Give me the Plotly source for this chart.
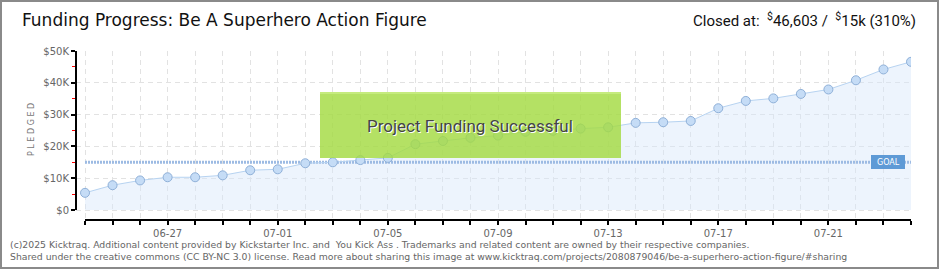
import plotly.graph_objects as go

# ---- data ----
DATES = ["2025-06-24", "2025-06-25", "2025-06-26", "2025-06-27", "2025-06-28", "2025-06-29",
         "2025-06-30", "2025-07-01", "2025-07-02", "2025-07-03", "2025-07-04", "2025-07-05",
         "2025-07-06", "2025-07-07", "2025-07-08", "2025-07-09", "2025-07-10", "2025-07-11",
         "2025-07-12", "2025-07-13", "2025-07-14", "2025-07-15", "2025-07-16", "2025-07-17",
         "2025-07-18", "2025-07-19", "2025-07-20", "2025-07-21", "2025-07-22", "2025-07-23",
         "2025-07-24"]
PLEDGED = [5400, 7800, 9300, 10300, 10300, 10900, 12500, 12800, 14700, 15000, 15700, 16400,
           20700, 21700, 22700, 23400, 24600, 24900, 25600, 26000, 27400, 27600, 28000, 32000,
           34300, 35100, 36500, 37900, 40800, 44200, 46603]
GOAL = 15000
Y_TICK_VALS = [0, 10000, 20000, 30000, 40000, 50000]
Y_TICK_TEXT = ["$0", "$10K", "$20K", "$30K", "$40K", "$50K"]
Y_MINOR_VALS = [5000, 15000, 25000, 35000, 45000]
TITLE = "Funding Progress: Be A Superhero Action Figure"
CLOSED = "Closed at:  <sup>$</sup>46,603 /  <sup>$</sup>15k (310%)"
FOOT1 = "(c)2025 Kicktraq. Additional content provided by Kickstarter Inc. and  You Kick Ass . Trademarks and related content are owned by their respective companies."
FOOT2 = "Shared under the creative commons (CC BY-NC 3.0) license. Read more about sharing this image at www.kicktraq.com/projects/2080879046/be-a-superhero-action-figure/#sharing"

# ---- layout geometry (pixels) ----
W, H = 940, 270
L, R, T, B = 76, 29, 51, 50
PW, PH = W - L - R, H - T - B


def px(x):
    return (x - L) / PW


def py(y):
    return (H - B - y) / PH


GRID = "#e2e2e2"
TICKFONT = dict(family="DejaVu Sans", size=10, color="#666666")

fig = go.Figure()
# area fill
fig.add_trace(go.Scatter(x=DATES, y=PLEDGED, mode="lines", line=dict(width=0, color="rgba(0,0,0,0)"),
                         fill="tozeroy", fillcolor="rgba(214,231,250,0.45)", hoverinfo="skip",
                         showlegend=False))
# goal line
fig.add_trace(go.Scatter(x=[DATES[0], DATES[-1]], y=[GOAL, GOAL], mode="lines",
                         line=dict(color="#9dbbe3", width=3, dash="2px,1px"),
                         hoverinfo="skip", showlegend=False))
# pledged line with markers
fig.add_trace(go.Scatter(x=DATES, y=PLEDGED, mode="lines+markers",
                         line=dict(color="#b7d3f1", width=1),
                         marker=dict(size=9, color="#c5dcf6", line=dict(color="#8fb0d8", width=1)),
                         showlegend=False))

shapes = [
    # outer border
    dict(type="rect", xref="paper", yref="paper", x0=px(1), x1=px(938), y0=py(1), y1=py(268),
         line=dict(color="#8a8a8a", width=2), fillcolor="rgba(0,0,0,0)", layer="below"),
    # y axis line
    dict(type="line", xref="paper", yref="y", x0=0, x1=0, y0=0, y1=Y_TICK_VALS[-1],
         line=dict(color="black", width=2)),
    # x axis line
    dict(type="line", xref="x", yref="paper", x0=DATES[0], x1=DATES[-1], y0=0, y1=0,
         line=dict(color="black", width=2)),
    # success banner
    dict(type="rect", xref="paper", yref="paper", x0=px(320), x1=px(621), y0=py(158), y1=py(92),
         line=dict(width=0), fillcolor="rgba(164,218,66,0.82)", layer="above"),
    dict(type="line", xref="paper", yref="paper", x0=px(320), x1=px(621), y0=py(93), y1=py(93),
         line=dict(width=1.5, color="rgba(205,240,140,0.9)"), layer="above"),
    # goal label box
    dict(type="rect", xref="paper", yref="paper", x0=px(871), x1=px(905), y0=py(169), y1=py(155),
         line=dict(width=0), fillcolor="#5e9ad6", layer="above"),
]

annotations = [
    dict(text=TITLE, xref="paper", yref="paper", x=px(20), y=py(20), xanchor="left", yanchor="middle",
         showarrow=False, font=dict(family="DejaVu Sans", size=17, color="#111111")),
    dict(text=CLOSED, xref="paper", yref="paper", x=px(918), y=py(20), xanchor="right", yanchor="middle",
         showarrow=False, font=dict(family="Roboto, sans-serif", size=15, color="#111111")),
    dict(text="P L E D G E D", xref="paper", yref="paper", x=px(31), y=py(130), textangle=-90,
         xanchor="center", yanchor="middle", showarrow=False,
         font=dict(family="DejaVu Sans", size=8, color="#777777")),
    dict(text="Project Funding Successful", xref="paper", yref="paper", x=px(470), y=py(126),
         xanchor="center", yanchor="middle", showarrow=False,
         font=dict(family="Roboto, sans-serif", size=17, color="#444444",
                   shadow="1px 1px 0px #ffffff")),
    dict(text="GOAL", xref="paper", yref="paper", x=px(888), y=py(162), xanchor="center", yanchor="middle",
         showarrow=False, font=dict(family="DejaVu Sans", size=8, color="white")),
    dict(text=FOOT1, xref="paper", yref="paper", x=px(8), y=py(244), xanchor="left", yanchor="middle",
         showarrow=False, font=dict(family="DejaVu Sans", size=9.3, color="#666666")),
    dict(text=FOOT2, xref="paper", yref="paper", x=px(8), y=py(256), xanchor="left", yanchor="middle",
         showarrow=False, font=dict(family="DejaVu Sans", size=9.3, color="#666666")),
]

fig.update_layout(
    width=W, height=H,
    margin=dict(l=L, r=R, t=T, b=B, pad=0),
    paper_bgcolor="white", plot_bgcolor="white",
    shapes=shapes, annotations=annotations,
    showlegend=False,
    xaxis=dict(
        type="date",
        range=["2025-06-23 16:09", "2025-07-24 00:00"],
        tick0="2025-06-27", dtick=4 * 86400000, tickformat="%m-%d",
        ticks="outside", ticklen=4, tickwidth=1.5, tickcolor="black",
        showgrid=True, gridcolor=GRID, griddash="5px,4px", gridwidth=1,
        showline=False, zeroline=False, tickfont=TICKFONT, ticklabelstandoff=0,
        minor=dict(dtick=86400000, tick0="2025-06-24", ticks="outside", ticklen=4, tickwidth=1.5,
                   tickcolor="black", showgrid=True, gridcolor=GRID, griddash="5px,4px", gridwidth=1),
    ),
    yaxis=dict(
        range=[-3145, 50000],
        tickmode="array", tickvals=Y_TICK_VALS, ticktext=Y_TICK_TEXT,
        ticks="outside", ticklen=4, tickwidth=1.5, tickcolor="black",
        showgrid=True, gridcolor=GRID, griddash="5px,4px", gridwidth=1,
        showline=False, zeroline=False, tickfont=TICKFONT,
        minor=dict(tickmode="array", tickvals=Y_MINOR_VALS, ticks="outside", ticklen=3,
                   tickwidth=1, tickcolor="red", showgrid=False),
    ),
)

fig.write_html("out.html")
